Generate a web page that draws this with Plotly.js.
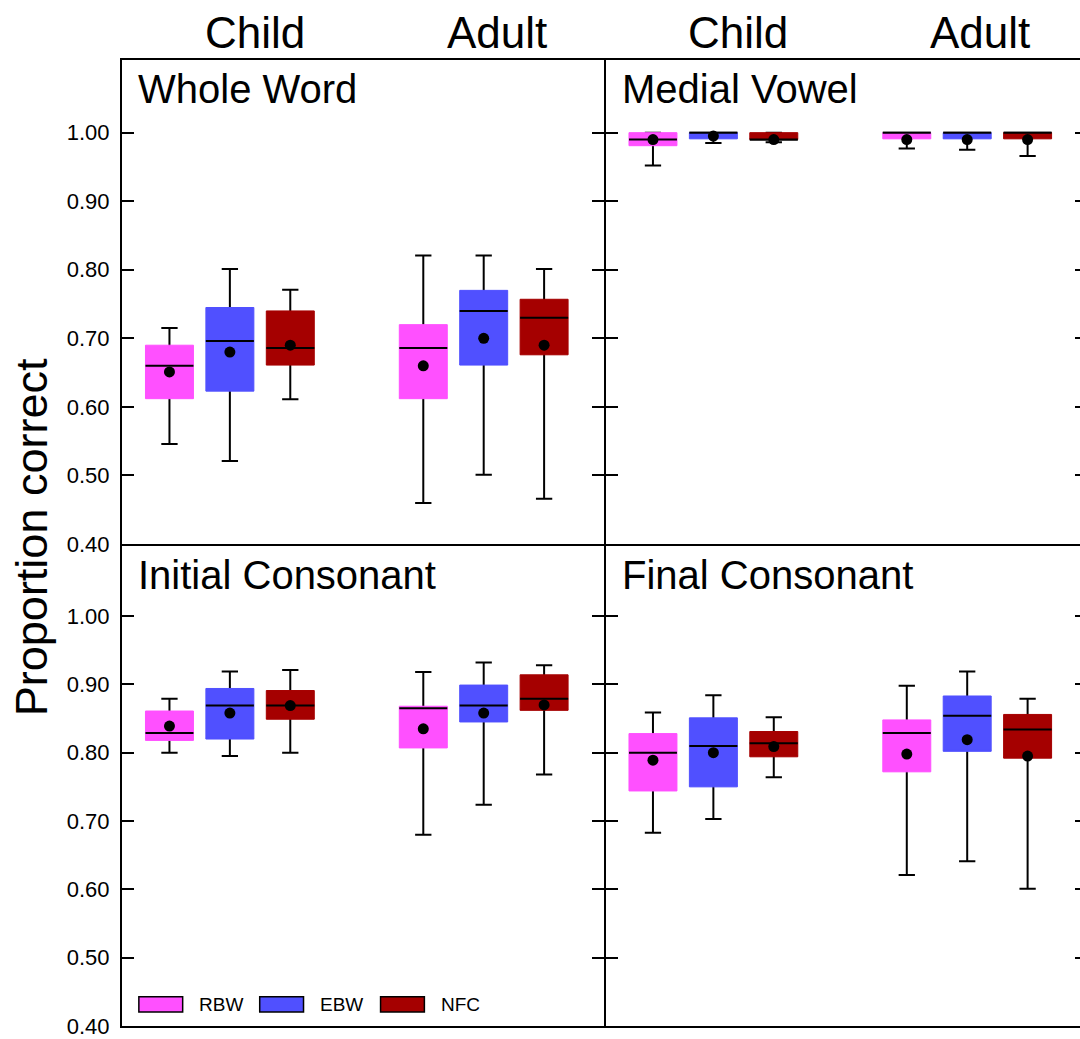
<!DOCTYPE html>
<html>
<head>
<meta charset="utf-8">
<script src="https://cdn.plot.ly/plotly-3.0.1.min.js"></script>
<style>html,body{margin:0;padding:0;overflow:hidden;background:#fff}</style>
</head>
<body>
<div id="chart"></div>
<script>
// ---------- data ----------
const groups = ["Child", "Adult"];
const seriesNames = ["RBW", "EBW", "NFC"];
const seriesColors = ["#ff50ff", "#5050ff", "#a50000"];
const panelTitles = ["Whole Word", "Medial Vowel", "Initial Consonant", "Final Consonant"];
const yTicks = [0.4, 0.5, 0.6, 0.7, 0.8, 0.9, 1.0];

// each array: [RBW, EBW, NFC], each entry [Child, Adult]
const wholeWordLow    = [[0.546, 0.460], [0.521, 0.501], [0.611, 0.466]];
const wholeWordQ1     = [[0.612, 0.612], [0.623, 0.661], [0.661, 0.676]];
const wholeWordMedian = [[0.660, 0.686], [0.696, 0.740], [0.686, 0.730]];
const wholeWordQ3     = [[0.690, 0.720], [0.745, 0.770], [0.740, 0.757]];
const wholeWordHigh   = [[0.715, 0.821], [0.801, 0.821], [0.771, 0.801]];
const wholeWordMean   = [[0.651, 0.660], [0.680, 0.700], [0.690, 0.690]];

const medialVowelLow    = [[0.952, 0.977], [0.985, 0.975], [0.986, 0.966]];
const medialVowelQ1     = [[0.981, 0.991], [0.991, 0.991], [0.990, 0.991]];
const medialVowelMedian = [[0.990, 1.000], [1.000, 1.000], [0.990, 1.000]];
const medialVowelQ3     = [[1.000, 1.000], [1.000, 1.000], [1.000, 1.000]];
const medialVowelHigh   = [[1.000, 1.000], [1.000, 1.000], [1.000, 1.000]];
const medialVowelMean   = [[0.990, 0.990], [0.995, 0.990], [0.990, 0.990]];

const initialConsLow    = [[0.800, 0.680], [0.795, 0.724], [0.800, 0.768]];
const initialConsQ1     = [[0.818, 0.807], [0.820, 0.845], [0.849, 0.862]];
const initialConsMedian = [[0.829, 0.865], [0.869, 0.869], [0.869, 0.879]];
const initialConsQ3     = [[0.861, 0.868], [0.894, 0.899], [0.891, 0.914]];
const initialConsHigh   = [[0.879, 0.918], [0.919, 0.932], [0.921, 0.928]];
const initialConsMean   = [[0.839, 0.835], [0.858, 0.858], [0.869, 0.870]];

const finalConsLow    = [[0.683, 0.621], [0.703, 0.641], [0.764, 0.601]];
const finalConsQ1     = [[0.744, 0.772], [0.750, 0.802], [0.794, 0.792]];
const finalConsMedian = [[0.800, 0.829], [0.810, 0.854], [0.814, 0.834]];
const finalConsQ3     = [[0.828, 0.848], [0.851, 0.883], [0.831, 0.856]];
const finalConsHigh   = [[0.859, 0.898], [0.884, 0.919], [0.852, 0.879]];
const finalConsMean   = [[0.789, 0.798], [0.800, 0.819], [0.809, 0.795]];

// ---------- build ----------
const panelStats = [
  {lo: wholeWordLow, q1: wholeWordQ1, med: wholeWordMedian, q3: wholeWordQ3, hi: wholeWordHigh, mean: wholeWordMean},
  {lo: medialVowelLow, q1: medialVowelQ1, med: medialVowelMedian, q3: medialVowelQ3, hi: medialVowelHigh, mean: medialVowelMean},
  {lo: initialConsLow, q1: initialConsQ1, med: initialConsMedian, q3: initialConsQ3, hi: initialConsHigh, mean: initialConsMean},
  {lo: finalConsLow, q1: finalConsQ1, med: finalConsMedian, q3: finalConsQ3, hi: finalConsHigh, mean: finalConsMean}
];

const FONT = "Liberation Sans, Arial, Helvetica, sans-serif";
const W = 1100, H = 1039, M = {l: 122, r: 13, t: 60, b: 13};
const dx = 1 / (W - M.l - M.r), dy = 1 / (H - M.t - M.b);
const splitY = 0.4979;
const traces = [];
const layout = {
  width: W, height: H,
  margin: M,
  paper_bgcolor: "#fff", plot_bgcolor: "#fff",
  showlegend: false,
  boxmode: "group", boxgap: 0.286, boxgroupgap: 0.206,
  scattermode: "group", scattergap: 0.286,
  font: {family: FONT, color: "#000"},
  annotations: [], shapes: []
};

panelStats.forEach((st, p) => {
  const sfx = p === 0 ? "" : String(p + 1);
  const xa = "x" + sfx, ya = "y" + sfx;
  const left = p % 2 === 0, top = p < 2;
  layout["xaxis" + sfx] = {
    domain: left ? [0, 0.5 - dx] : [0.5 + dx, 1], anchor: ya,
    type: "category", categoryorder: "array", categoryarray: groups,
    range: [-0.425, 1.472],
    showline: true, linewidth: 2, linecolor: "#000", mirror: true,
    ticks: "", showticklabels: false, showgrid: false, zeroline: false
  };
  layout["yaxis" + sfx] = {
    domain: top ? [splitY + dy, 1] : [0, splitY - dy], anchor: xa,
    range: top ? [0.4, 1.106] : [0.4, 1.1025],
    tickmode: "array", tickvals: yTicks, tickformat: ".2f",
    ticks: "inside", ticklen: 12, tickwidth: 2, tickcolor: "#000",
    showline: true, linewidth: 2, linecolor: "#000", mirror: "ticks",
    showgrid: false, zeroline: false,
    showticklabels: left, ticklabelstandoff: 6,
    tickfont: {family: FONT, size: 22, color: "#000"}
  };

  const base = (s) => ({type: "box", x: groups, xaxis: xa, yaxis: ya,
    offsetgroup: seriesNames[s], name: seriesNames[s], hoverinfo: "skip", boxpoints: false});
  // whiskers (behind)
  seriesNames.forEach((n, s) => traces.push(Object.assign(base(s), {
    q1: st.med[s], median: st.med[s], q3: st.med[s],
    lowerfence: st.lo[s], upperfence: st.hi[s],
    whiskerwidth: 0.34, fillcolor: "rgba(0,0,0,0)", line: {color: "#000", width: 2}
  })));
  // filled boxes
  seriesNames.forEach((n, s) => traces.push(Object.assign(base(s), {
    q1: st.q1[s], median: st.q1[s], q3: st.q3[s],
    lowerfence: st.q1[s], upperfence: st.q3[s],
    whiskerwidth: 0, fillcolor: seriesColors[s], line: {color: seriesColors[s], width: 1}
  })));
  // medians
  seriesNames.forEach((n, s) => traces.push(Object.assign(base(s), {
    q1: st.med[s], median: st.med[s], q3: st.med[s],
    lowerfence: st.med[s], upperfence: st.med[s],
    whiskerwidth: 0, fillcolor: "rgba(0,0,0,0)", line: {color: "#000", width: 2}
  })));
  // means
  seriesNames.forEach((n, s) => traces.push({
    type: "scatter", mode: "markers", x: groups, y: st.mean[s], xaxis: xa, yaxis: ya,
    offsetgroup: seriesNames[s], name: n + " mean", hoverinfo: "skip",
    marker: {color: "#000", size: 11}
  }));

  // panel title
  layout.annotations.push({
    text: panelTitles[p], xref: xa + " domain", yref: ya + " domain",
    x: 0, y: 1, xanchor: "left", yanchor: "middle", xshift: 14, yshift: -29,
    showarrow: false, font: {family: FONT, size: 40, color: "#000"}
  });
  // group labels above top panels
  if (top) {
    groups.forEach((g, gi) => layout.annotations.push({
      text: g, xref: xa, yref: "paper", x: g, y: 1, yanchor: "middle",
      xshift: gi === 0 ? 25 : 13, yshift: 28,
      showarrow: false, font: {family: FONT, size: 44, color: "#000"}
    }));
  }
});

// y-axis title
layout.annotations.push({
  text: "Proportion correct", xref: "paper", yref: "paper", x: 0, y: 0.506,
  xanchor: "center", yanchor: "middle", xshift: -91, textangle: -90,
  showarrow: false, font: {family: FONT, size: 45, color: "#000"}
});

// legend (inside lower-left panel)
seriesNames.forEach((n, s) => {
  const x0 = 0.035 + s * 0.251;
  layout.shapes.push({
    type: "rect", xref: "x3 domain", yref: "y3 domain",
    x0: x0, x1: x0 + 0.091, y0: 0.029, y1: 0.061,
    fillcolor: seriesColors[s], line: {color: "#000", width: 1.5}
  });
  layout.annotations.push({
    text: n, xref: "x3 domain", yref: "y3 domain", x: x0 + 0.121, y: 0.045,
    xanchor: "left", yanchor: "middle", showarrow: false,
    font: {family: FONT, size: 19, color: "#000"}
  });
});

Plotly.newPlot("chart", traces, layout, {displayModeBar: false, staticPlot: true});
</script>
</body>
</html>
